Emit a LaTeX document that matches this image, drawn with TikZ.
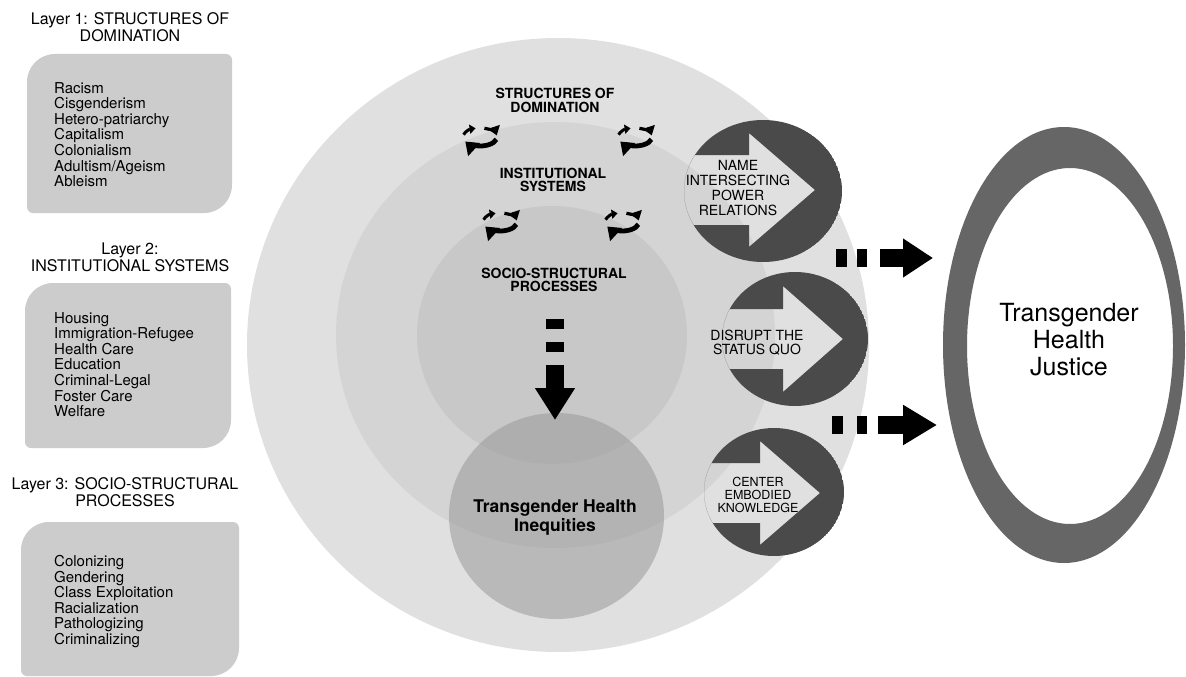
\documentclass[tikz,border=0pt]{standalone}
\usepackage{fontspec}
\setmainfont{TeX Gyre Heros}
\usepackage{xcolor}
\definecolor{domfill}{gray}{0.88}
\definecolor{instfill}{gray}{0.83}
\definecolor{procfill}{gray}{0.785}
\definecolor{ineqfill}{gray}{0.6}
\definecolor{listfill}{gray}{0.8}
\definecolor{actionfill}{gray}{0.29}
\definecolor{justicefill}{gray}{0.4}
\usetikzlibrary{shapes.geometric}
\usetikzlibrary{arrows.meta}
\usetikzlibrary{calc}

% box with two big and two small rounded corners: x1 y1 x2 y2
\newcommand{\layerbox}[4]{%
  \fill[listfill] (#1,#2+28) arc[start angle=180, end angle=270, radius=28]
    -- (#3-6,#2) arc[start angle=270, end angle=360, radius=6]
    -- (#3,#4-28) arc[start angle=0, end angle=90, radius=28]
    -- (#1+6,#4) arc[start angle=90, end angle=180, radius=6] -- cycle;}

\begin{document}
\begin{tikzpicture}[x=1pt, y=-1pt, every node/.style={inner sep=0pt, align=center},
  ring/.style={ellipse, inner sep=0pt},
  circlelabel/.style={font=\bfseries\fontsize{14}{13.3}\selectfont},
  layertitle/.style={font=\fontsize{16}{17}\selectfont},
  layerlist/.style={font=\fontsize{15}{15.6}\selectfont, align=left, anchor=north west},
  actionlabel/.style={font=\fontsize{14}{15.2}\selectfont},
  dasharrow/.style={line width=18.5pt, -{Triangle[length=30pt, width=37pt]}},
  cycsmall/.style={line width=3pt, -{Triangle[length=6pt, width=9pt]}},
  cycright/.style={line width=3.2pt, -{Triangle[length=9pt, width=12pt]}},
  cycbig/.style={line width=4.8pt, -{Triangle[length=12pt, width=17pt]}}]
\useasboundingbox (0,0) rectangle (1186,677);
\fill[white] (0,0) rectangle (1186,677);

% the three layers
\node[ring, fill=domfill, minimum width=622pt, minimum height=614pt] (domination) at (558,345) {};
\node[ring, fill=instfill, minimum width=439pt, minimum height=426pt] (institutions) at (555.5,335) {};
\node[ring, fill=procfill, minimum width=270pt, minimum height=258pt] (processes) at (552,335) {};
\node[ring, fill=ineqfill, fill opacity=0.55, minimum width=215pt, minimum height=206pt] (inequities) at (556.5,516) {};

\node[circlelabel] (domlabel) at (555,100.5) {STRUCTURES OF\\DOMINATION};
\node[circlelabel] (instlabel) at (553,180) {INSTITUTIONAL\\SYSTEMS};
\node[circlelabel] (proclabel) at (554,280) {SOCIO-STRUCTURAL\\PROCESSES};
\node[font=\bfseries\fontsize{17.5}{19}\selectfont] (ineqlabel) at (555,518) {Transgender Health\\Inequities};

% cycles between layers
\foreach \cx/\cy in {480/137, 635/137, 500/222, 622/222} {
  \draw[cycsmall] (\cx,\cy) ++(195:17 and 9) arc[start angle=195, end angle=255, x radius=17, y radius=9];
  \draw[cycright] (\cx,\cy) ++(285:17 and 9) arc[start angle=285, end angle=350, x radius=17, y radius=9];
  \draw[cycbig] (\cx,\cy) ++(15:17 and 9) arc[start angle=15, end angle=150, x radius=17, y radius=9];
}

% action circles with arrow cut out
\begin{scope}
\clip (763,191) ellipse [x radius=79, y radius=71];
\fill[actionfill, even odd rule] (763,191) ellipse [x radius=79, y radius=71]
  (680,155) -- (749,155) -- (749,133) -- (815,190) -- (749,247) -- (749,225) -- (680,225) -- cycle;
\end{scope}
\begin{scope}
\clip (795,339) ellipse [x radius=73, y radius=67];
\fill[actionfill, even odd rule] (795,339) ellipse [x radius=73, y radius=67]
  (715,309) -- (783,309) -- (783,286) -- (843,339) -- (783,392) -- (783,369) -- (715,369) -- cycle;
\end{scope}
\begin{scope}
\clip (774,492) ellipse [x radius=70, y radius=64];
\fill[actionfill, even odd rule] (774,492) ellipse [x radius=70, y radius=64]
  (698,463) -- (760,463) -- (760,441) -- (820,493) -- (760,545) -- (760,523) -- (698,523) -- cycle;
\end{scope}

\node[actionlabel] (namelabel) at (738,188) {NAME\\INTERSECTING\\POWER\\RELATIONS};
\node[actionlabel, font=\fontsize{14}{14}\selectfont] (disruptlabel) at (757,343) {DISRUPT THE\\STATUS QUO};
\node[actionlabel, font=\fontsize{12.5}{13}\selectfont] (centerlabel) at (758,495) {CENTER\\EMBODIED\\KNOWLEDGE};

% justice ring
\fill[justicefill, even odd rule] (1064,345) ellipse [x radius=121, y radius=218]
  (1070,346) ellipse [x radius=103, y radius=178];
\node[font=\fontsize{25}{27}\selectfont] (justicelabel) at (1069,340) {Transgender\\Health\\Justice};

% dashed block arrows
\coordinate (downstart) at (555,319);
\coordinate (downend) at (555,420);
\coordinate (upperstart) at (836,258);
\coordinate (upperend) at (933,258);
\coordinate (lowerstart) at (832,425);
\coordinate (lowerend) at (937,425);
\draw[dasharrow, -{Triangle[length=32pt, width=38pt]}, dash pattern=on 10pt off 13pt on 10pt off 13pt on 200pt] (downstart) -- (downend);
\draw[dasharrow, dash pattern=on 11pt off 10pt on 10pt off 13pt on 200pt] (upperstart) -- (upperend);
\draw[dasharrow, -{Triangle[length=34pt, width=38pt]}, dash pattern=on 11pt off 14pt on 10pt off 11pt on 200pt] (lowerstart) -- (lowerend);

% layer lists
\layerbox{27}{54}{232}{213}
\layerbox{25}{283}{231}{448}
\layerbox{21}{522}{239}{676}
\node[layertitle] (title1) at (130,27) {Layer 1: STRUCTURES OF\\DOMINATION};
\node[layertitle] (title2) at (130,257) {Layer 2:\\INSTITUTIONAL SYSTEMS};
\node[layertitle] (title3) at (125,492) {Layer 3: SOCIO-STRUCTURAL\\PROCESSES};
\node[layerlist] (list1) at (54,82) {Racism\\Cisgenderism\\Hetero-patriarchy\\Capitalism\\Colonialism\\Adultism/Ageism\\Ableism};
\node[layerlist] (list2) at (54,312) {Housing\\Immigration-Refugee\\Health Care\\Education\\Criminal-Legal\\Foster Care\\Welfare};
\node[layerlist] (list3) at (54,555) {Colonizing\\Gendering\\Class Exploitation\\Racialization\\Pathologizing\\Criminalizing};
\end{tikzpicture}
\end{document}
